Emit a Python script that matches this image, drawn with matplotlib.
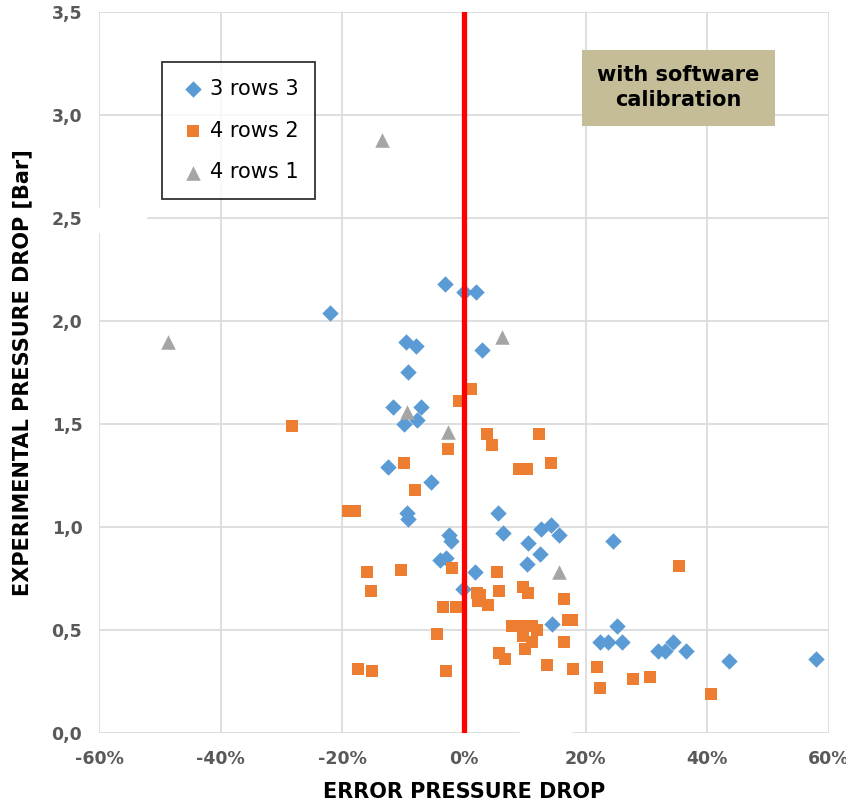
import matplotlib
matplotlib.use("Agg")
import matplotlib.pyplot as plt
from matplotlib.patches import Rectangle
from matplotlib.ticker import FuncFormatter, MultipleLocator

# error in %, experimental pressure drop in bar
rows33_err = [-22.0, -3.1, 0.0, 2.0, -9.5, -7.9, 3.0, -9.2, -11.7, -7.1, -7.7, -9.9,
              -12.5, -5.4, -9.4, -9.2, -2.5, -2.1, -3.9, -3.0, 1.8, -0.1, 5.6, 6.4,
              10.5, 12.5, 10.4, 12.7, 14.3, 15.6, 24.5, 14.5, 25.2, 22.4, 23.7, 25.9,
              31.8, 33.0, 34.4, 36.5, 43.6, 57.9]
rows33_dp = [2.04, 2.18, 2.14, 2.14, 1.90, 1.88, 1.86, 1.75, 1.58, 1.58, 1.52, 1.50,
             1.29, 1.22, 1.07, 1.04, 0.96, 0.93, 0.84, 0.85, 0.78, 0.70, 1.07, 0.97,
             0.92, 0.87, 0.82, 0.99, 1.01, 0.96, 0.93, 0.53, 0.52, 0.44, 0.44, 0.44,
             0.40, 0.40, 0.44, 0.40, 0.35, 0.36]

rows42_err = [-28.3, -19.1, -18.0, -16.0, -15.3, -17.4, -15.1, -9.9, -8.1, -10.4,
              -2.6, -0.8, 1.1, 3.8, 4.6, 9.0, 10.3, 12.3, 14.3, -3.5, -1.3, -2.0,
              -4.4, -3.0, 2.1, 2.6, 2.3, 3.9, 5.4, 5.8, 9.7, 10.5, 16.4, 17.1, 17.8,
              7.9, 9.7, 11.1, 12.0, 9.7, 11.1, 10.0, 16.4, 5.8, 6.7, 13.6, 17.9,
              21.9, 22.4, 27.8, 30.6, 35.3, 40.6]
rows42_dp = [1.49, 1.08, 1.08, 0.78, 0.69, 0.31, 0.30, 1.31, 1.18, 0.79,
             1.38, 1.61, 1.67, 1.45, 1.40, 1.28, 1.28, 1.45, 1.31, 0.61, 0.61, 0.80,
             0.48, 0.30, 0.68, 0.67, 0.64, 0.62, 0.78, 0.69, 0.71, 0.68, 0.65, 0.55, 0.55,
             0.52, 0.52, 0.52, 0.50, 0.47, 0.44, 0.41, 0.44, 0.39, 0.36, 0.33, 0.31,
             0.32, 0.22, 0.26, 0.27, 0.81, 0.19]

rows41_err = [-48.7, -13.5, 6.2, -9.4, -2.6, 15.6]
rows41_dp = [1.90, 2.88, 1.92, 1.56, 1.46, 0.78]

tick_col = "#595959"

fig = plt.figure(figsize=(8.46, 8.07), dpi=100)
ax = fig.add_axes([0.117, 0.0917, 0.863, 0.8935])

ax.scatter(rows33_err, rows33_dp, marker="D", s=70, color="#5B9BD5",
           label="3 rows 3", zorder=3, linewidths=0)
ax.scatter(rows42_err, rows42_dp, marker="s", s=75, color="#ED7D31",
           label="4 rows 2", zorder=3, linewidths=0)
ax.scatter(rows41_err, rows41_dp, marker="^", s=110, color="#A5A5A5",
           label="4 rows 1", zorder=3, linewidths=0)

ax.axvline(0, color="#FF0000", lw=3.8, zorder=4)

ax.set_xlim(-60, 60)
ax.set_ylim(0, 3.5)
ax.xaxis.set_major_locator(MultipleLocator(20))
ax.yaxis.set_major_locator(MultipleLocator(0.5))
ax.xaxis.set_major_formatter(FuncFormatter(lambda v, p: f"{v:.0f}%"))
ax.yaxis.set_major_formatter(FuncFormatter(lambda v, p: f"{v:.1f}".replace(".", ",")))
ax.grid(True, color="#D9D9D9", lw=1.2, zorder=0)
ax.set_axisbelow(True)
for s in ax.spines.values():
    s.set_visible(False)
ax.tick_params(length=0, labelsize=12.5, labelcolor=tick_col, pad=12)
for lab in ax.get_xticklabels() + ax.get_yticklabels():
    lab.set_fontweight("bold")

ax.set_xlabel("ERROR PRESSURE DROP", fontsize=15, fontweight="bold", labelpad=10)
ax.set_ylabel("EXPERIMENTAL PRESSURE DROP [Bar]", fontsize=15, fontweight="bold",
              labelpad=14)

# white gaps in the gridlines as in the original
ax.add_patch(Rectangle((-60.5, 2.43), 8.3, 0.12, color="white", zorder=1,
                       clip_on=False))
ax.add_patch(Rectangle((9.2, -0.02), 8.4, 0.04, color="white", zorder=1,
                       clip_on=False))

leg = ax.legend(loc="upper left", bbox_to_anchor=(0.072, 0.945), fontsize=15,
                frameon=True, fancybox=False, edgecolor="black",
                labelspacing=1.05, handletextpad=0.1, borderpad=0.8,
                handlelength=1.4, markerscale=1.0)
leg.get_frame().set_linewidth(1.3)
leg.set_zorder(5)

ax.text(0.794, 0.895, "with software\ncalibration", transform=ax.transAxes,
        ha="center", va="center", fontsize=15, fontweight="bold",
        linespacing=1.3, zorder=5,
        bbox=dict(boxstyle="square,pad=0.75", fc="#C4BD97", ec="none"))

fig.savefig("out.png", dpi=100)
